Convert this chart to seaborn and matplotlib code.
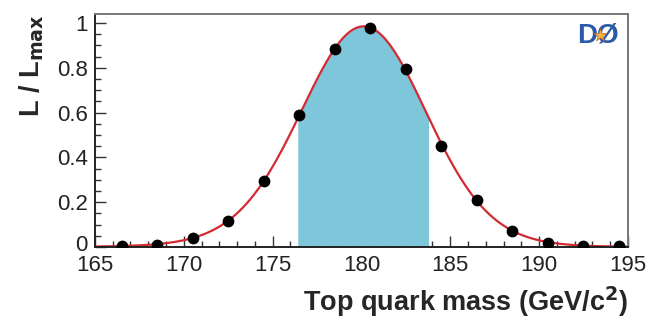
import numpy as np
import pandas as pd
import matplotlib
matplotlib.use("Agg")
import matplotlib.pyplot as plt
import matplotlib.transforms as mtransforms
from matplotlib.ticker import MultipleLocator
import seaborn as sns

# Normalised likelihood scan versus top quark mass
mass = [166.5, 168.5, 170.5, 172.5, 174.5, 176.5, 178.5, 180.5,
        182.5, 184.5, 186.5, 188.5, 190.5, 192.5, 194.5]
likelihood = [0.006, 0.010, 0.040, 0.116, 0.296, 0.588, 0.885, 0.978,
              0.793, 0.452, 0.212, 0.073, 0.017, 0.005, 0.003]

# 68% interval shown as the shaded band
band_low, band_high = 176.4, 183.8

x_ticks = [165, 170, 175, 180, 185, 190, 195]
y_ticks = [0, 0.2, 0.4, 0.6, 0.8, 1]

sns.set_theme(style="white")
plt.rcParams["font.family"] = ["Liberation Sans", "DejaVu Sans"]

points = pd.DataFrame({"mass": mass, "L": likelihood})

# Smooth fit: weighted polynomial in log-likelihood
coef = np.polyfit(points["mass"], np.log(points["L"]), 4, w=points["L"])
grid = np.linspace(165, 195, 600)
fit = pd.DataFrame({"mass": grid, "L": np.exp(np.polyval(coef, grid))})

fig = plt.figure(figsize=(6.5, 3.21), dpi=100)
ax = fig.add_axes([0.146, 0.2305, 0.82, 0.7255])

in_band = (fit["mass"] >= band_low) & (fit["mass"] <= band_high)
ax.fill_between(fit["mass"][in_band], 0, fit["L"][in_band],
                color="#7ec6da", linewidth=0, zorder=1)

sns.lineplot(data=fit, x="mass", y="L", ax=ax, color="#d42a32",
             linewidth=1.6, zorder=2)
sns.scatterplot(data=points, x="mass", y="L", ax=ax, color="black",
                s=72, edgecolor="black", linewidth=0, zorder=3)

ax.set_xlim(165, 195)
ax.set_ylim(0, 1.04)
ax.set_xticks(x_ticks)
ax.set_xticklabels([str(t) for t in x_ticks])
ax.set_yticks(y_ticks)
ax.set_yticklabels([f"{t:g}" for t in y_ticks])
ax.xaxis.set_minor_locator(MultipleLocator(1))
ax.yaxis.set_minor_locator(MultipleLocator(0.05))
ax.tick_params(which="both", direction="in", colors="#333333",
               labelcolor="#222222", labelsize=16, width=1.0,
               bottom=True, left=True, top=False, right=False)
ax.tick_params(axis="x", which="major", length=8, pad=6)
ax.tick_params(axis="y", which="major", length=8, pad=5)
ax.tick_params(which="minor", length=4)

# Lift the "0" on the y axis a little so it clears the first mass label
zero_label = ax.get_yticklabels()[0]
zero_label.set_transform(zero_label.get_transform() +
                         mtransforms.ScaledTranslation(0, 3 / 72, fig.dpi_scale_trans))

for side in ["left", "bottom"]:
    ax.spines[side].set_color("#222222")
    ax.spines[side].set_linewidth(1.4)
for side in ["top", "right"]:
    ax.spines[side].set_color("#777777")
    ax.spines[side].set_linewidth(1.4)

ax.set_xlabel(r"Top quark mass (GeV/c$^\mathbf{2}$)", fontsize=19.5,
              fontweight="bold", loc="right", labelpad=6)
ax.set_ylabel(r"L / L$_\mathbf{max}$", fontsize=19.5, fontweight="bold",
              loc="top", labelpad=8)

# Experiment logo in the top-right corner
ax.text(193.3, 0.945, "DØ", color="#2a5aa8", fontsize=20, fontweight="bold",
        ha="center", va="center", zorder=4)
ax.scatter([193.45], [0.945], marker="*", s=90, color="#f4b43a",
           edgecolor="#c8602a", linewidth=0.5, zorder=5)

fig.savefig("out.png", dpi=100)
